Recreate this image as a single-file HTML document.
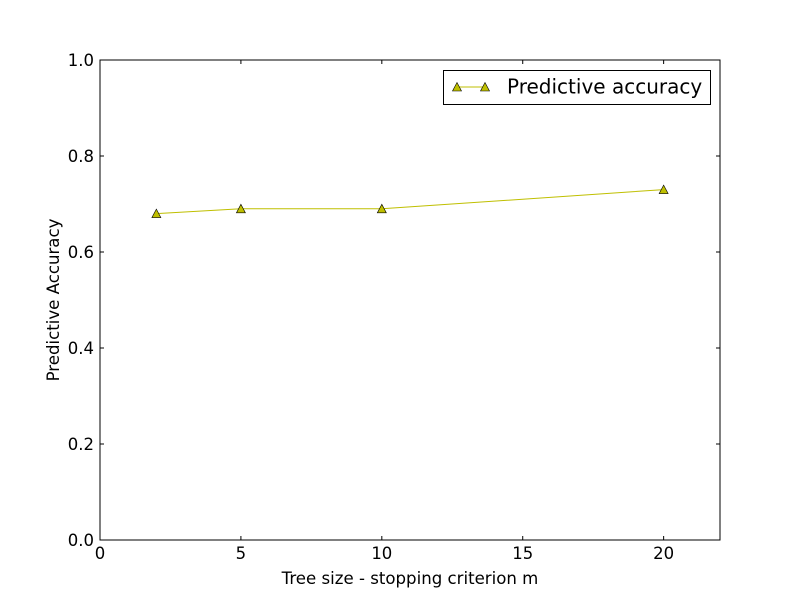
<!DOCTYPE html>
<html><head><meta charset="utf-8"><style>
body{margin:0;background:#fff;}
svg text{font-family:"DejaVu Sans","Liberation Sans",sans-serif;}
</style></head><body>
<svg id="chart" width="800" height="600" xmlns="http://www.w3.org/2000/svg">
<rect width="800" height="600" fill="#fff"/>
<g id="ticks"></g>
<g id="series"></g>
<rect x="100" y="60" width="620" height="480" fill="none" stroke="#000" stroke-width="1"/>
<text x="410" y="584" font-size="16.6" text-anchor="middle">Tree size - stopping criterion m</text>
<text transform="translate(59,300) rotate(-90)" font-size="16.6" text-anchor="middle">Predictive Accuracy</text>
<g>
<rect x="443.5" y="70.5" width="267" height="34" fill="#fff" stroke="#000"/>
<line x1="457" y1="87" x2="485" y2="87" stroke="#bfbf00" stroke-width="1"/>
<polygon points="457,82.5 461.5,91 452.5,91" fill="#bfbf00" stroke="#000" stroke-width="0.6"/>
<polygon points="485,82.5 489.5,91 480.5,91" fill="#bfbf00" stroke="#000" stroke-width="0.6"/>
<text x="507" y="93.5" font-size="20">Predictive accuracy</text>
</g>
</svg>
<script>
const xValues = [2, 5, 10, 20];
const accuracy = [0.68, 0.69, 0.69, 0.73];
const xTicks = [0, 5, 10, 15, 20];
const yTicks = [0.0, 0.2, 0.4, 0.6, 0.8, 1.0];
const xMin = 0, xMax = 22, yMin = 0, yMax = 1;
const L = 100, R = 720, T = 60, B = 540;
const sx = v => L + (v - xMin) / (xMax - xMin) * (R - L);
const sy = v => B - (v - yMin) / (yMax - yMin) * (B - T);
const NS = "http://www.w3.org/2000/svg";
const ticks = document.getElementById("ticks");
const series = document.getElementById("series");
function mk(tag, attrs, parent) {
  const e = document.createElementNS(NS, tag);
  for (const k in attrs) e.setAttribute(k, attrs[k]);
  parent.appendChild(e);
  return e;
}
xTicks.forEach(v => {
  const x = sx(v);
  const t1 = mk("line", {x1: x, y1: B, x2: x, y2: B - 4, stroke: "#000"}, ticks);
  
  
  const t2 = mk("line", {x1: x, y1: T, x2: x, y2: T + 4, stroke: "#000"}, ticks);
  
  
  const tx = mk("text", {x: x, y: B + 19, "font-size": 16.5, "text-anchor": "middle"}, ticks);
  tx.textContent = v;
  
  
});
yTicks.forEach(v => {
  const y = sy(v);
  const t1 = mk("line", {x1: L, y1: y, x2: L + 4, y2: y, stroke: "#000"}, ticks);
  
  
  const t2 = mk("line", {x1: R, y1: y, x2: R - 4, y2: y, stroke: "#000"}, ticks);
  
  
  const tx = mk("text", {x: L - 6, y: y + 6, "font-size": 16.5, "text-anchor": "end"}, ticks);
  tx.textContent = v.toFixed(1);
  
  
});
const pts = xValues.map((v, i) => [sx(v), sy(accuracy[i])]);
const line = mk("polyline", {points: pts.map(p => p.join(",")).join(" "), fill: "none", stroke: "#bfbf00", "stroke-width": 1}, series);


pts.forEach(([x, y]) => {
  const m = mk("polygon", {points: `${x},${y-4.5} ${x+4.5},${y+4} ${x-4.5},${y+4}`, fill: "#bfbf00", stroke: "#000", "stroke-width": 0.6}, series);
  
  
});
</script>
</body></html>
